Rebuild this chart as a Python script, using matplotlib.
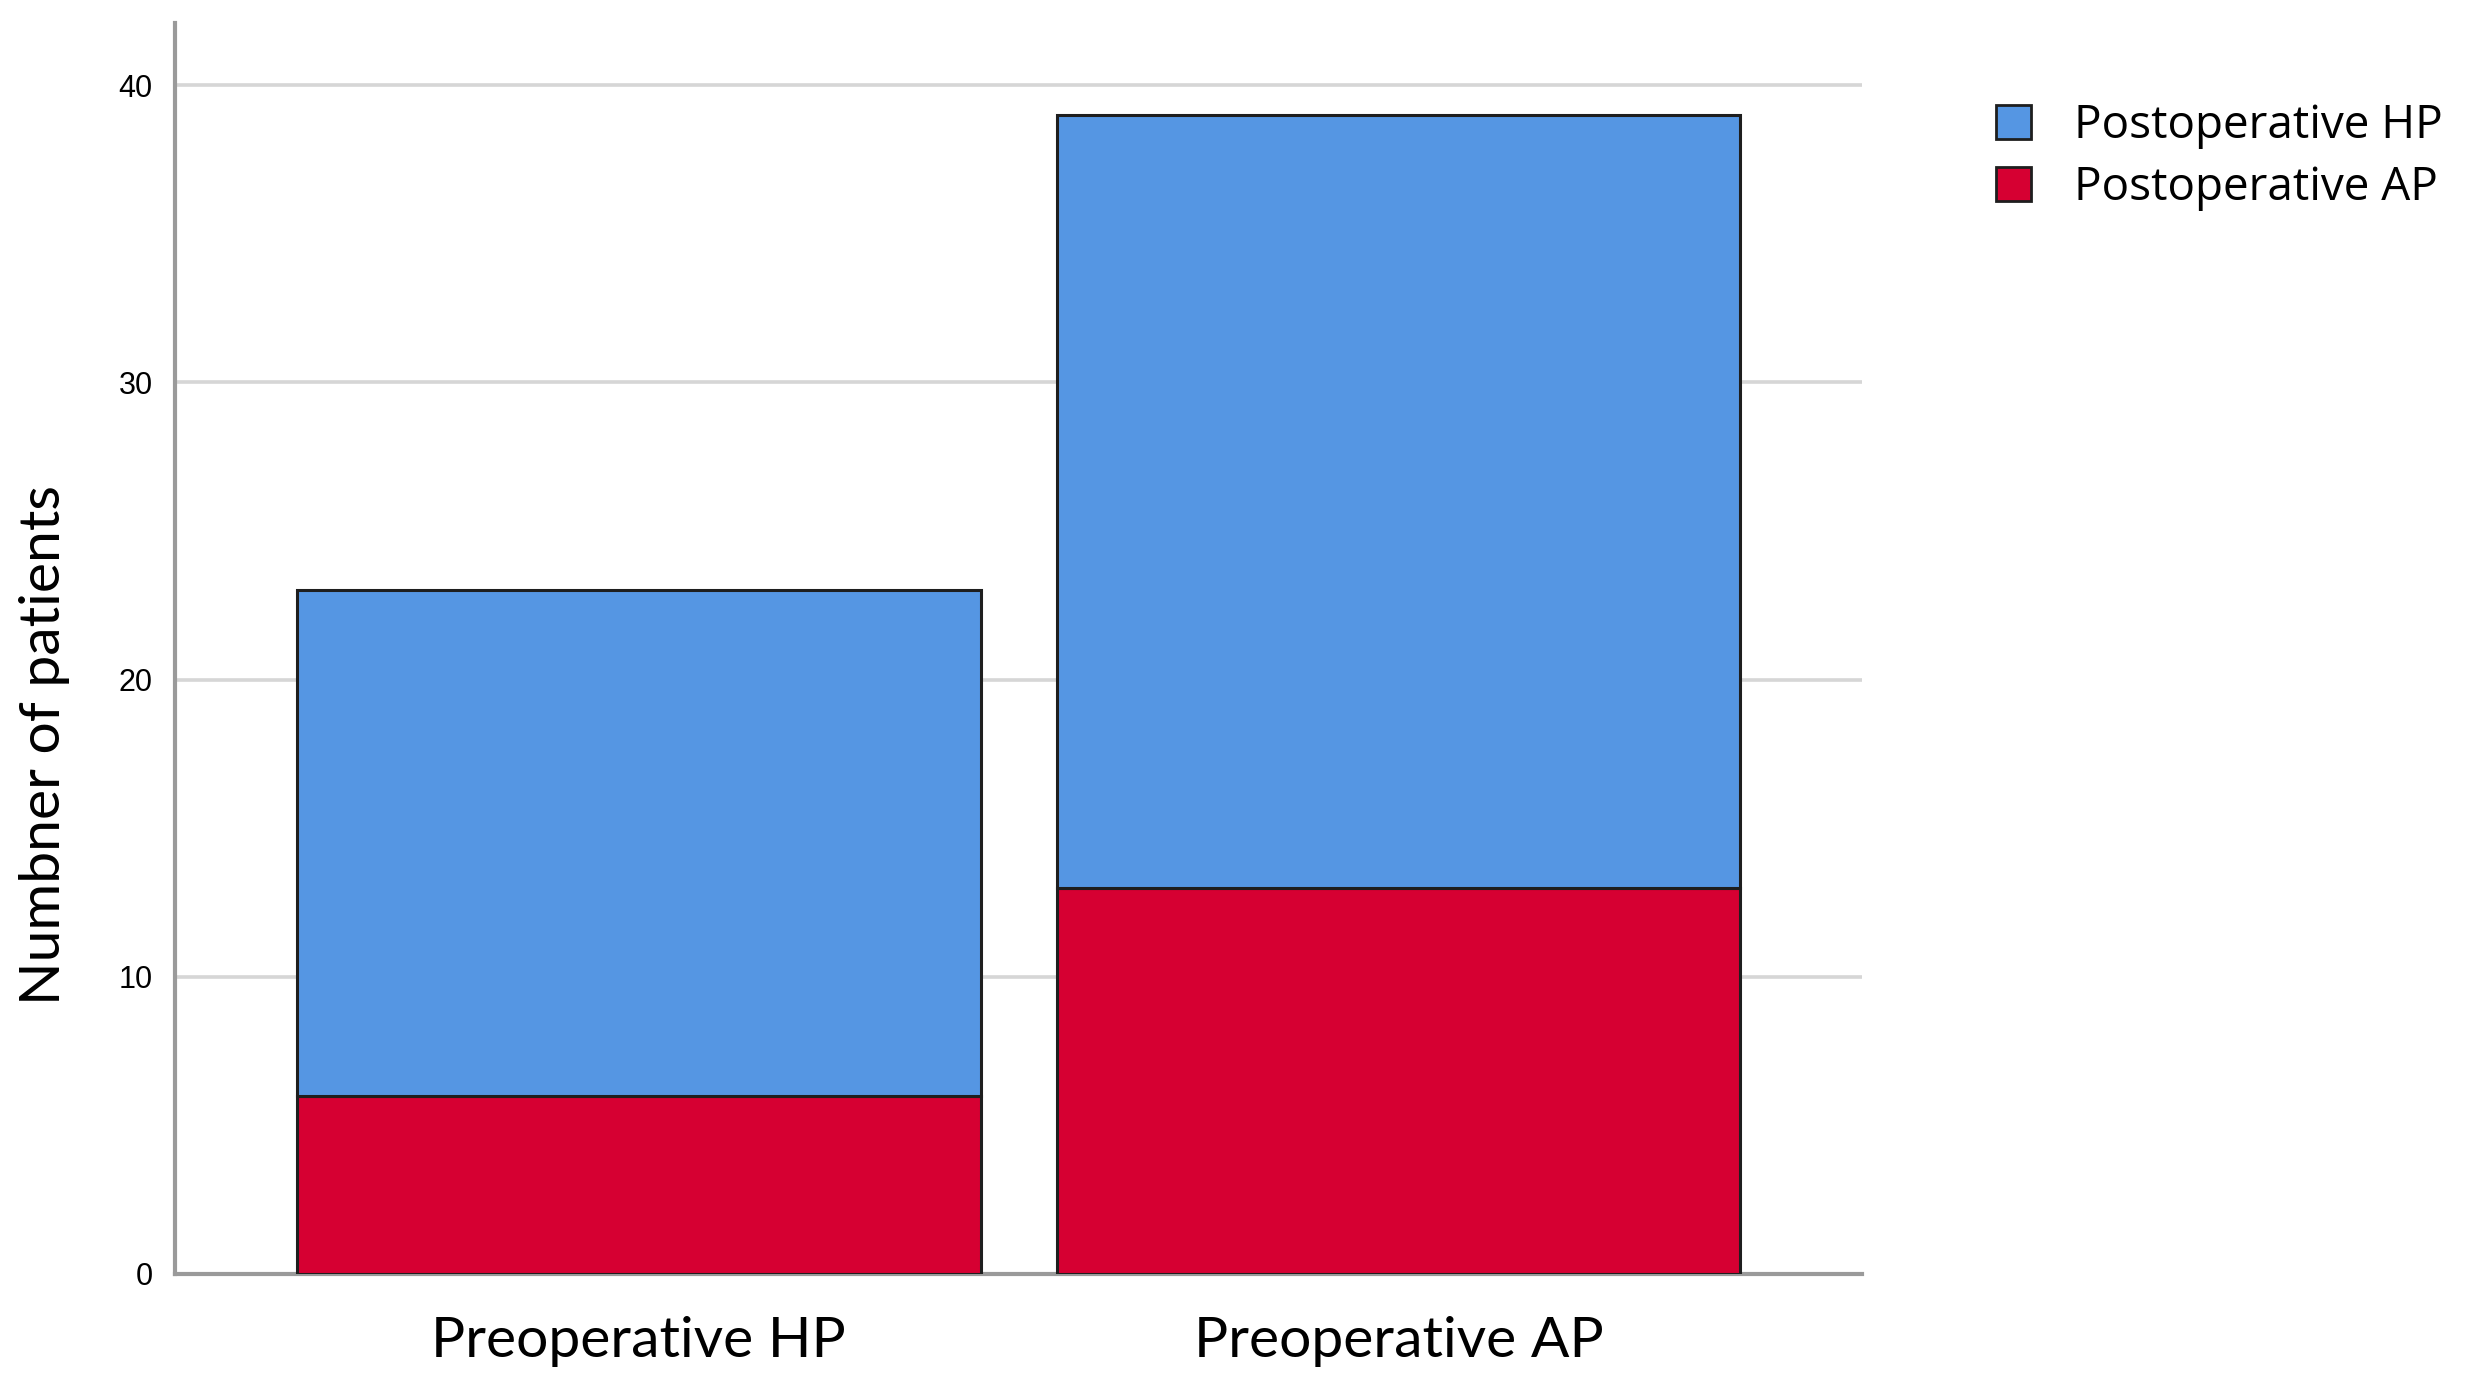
import numpy as np
import matplotlib
matplotlib.use("Agg")
import matplotlib.pyplot as plt
from matplotlib.patches import Patch

# data
categories = ["Preoperative HP", "Preoperative AP"]
post_ap = [6, 13]      # red, bottom segment
post_hp = [17, 26]     # blue, stacked on top
series_labels = ["Postoperative HP", "Postoperative AP"]
yticks = [0, 10, 20, 30, 40]

blue = "#5596e3"
red = "#d60032"
edge = "#1e1e1e"

fig = plt.figure(figsize=(24.8, 13.9), dpi=100)
ax = fig.add_axes([0.0706, 0.0835, 0.6802, 0.9000])

x = np.arange(len(categories))
ax.bar(x, post_ap, width=0.9, color=red, edgecolor=edge, linewidth=2.2, zorder=3)
ax.bar(x, post_hp, width=0.9, bottom=post_ap, color=blue, edgecolor=edge,
       linewidth=2.2, zorder=3)

ax.set_xlim(-0.61, 1.61)
ax.set_ylim(0, 42.1)
ax.set_yticks(yticks)
ax.set_yticklabels([str(t) for t in yticks], fontfamily="Liberation Sans", fontsize=22)
ax.set_xticks(x)
ax.set_xticklabels(categories, fontfamily="Lato", fontsize=41)
ax.tick_params(axis="y", length=0, pad=16)
ax.tick_params(axis="x", length=0, pad=30)

ax.yaxis.grid(True, color="#d6d6d6", linewidth=2.6, zorder=0)
ax.set_axisbelow(True)
for s in ["top", "right"]:
    ax.spines[s].set_visible(False)
for s in ["left", "bottom"]:
    ax.spines[s].set_color("#9a9a9a")
    ax.spines[s].set_linewidth(3)

ax.set_ylabel("Numbner of patients", fontfamily="Lato", fontsize=41)
ax.yaxis.set_label_coords(-0.0622, 0.423)

handles = [Patch(facecolor=blue, edgecolor=edge, linewidth=2),
           Patch(facecolor=red, edgecolor=edge, linewidth=2)]
fig.legend(handles, series_labels, loc="upper left", bbox_to_anchor=(0.805, 0.926),
           frameon=False, prop={"family": "Open Sans", "size": 33},
           handlelength=0.75, handleheight=0.75, handletextpad=0.95,
           labelspacing=0.35, borderpad=0, borderaxespad=0)

fig.savefig("out.png", dpi=100)
